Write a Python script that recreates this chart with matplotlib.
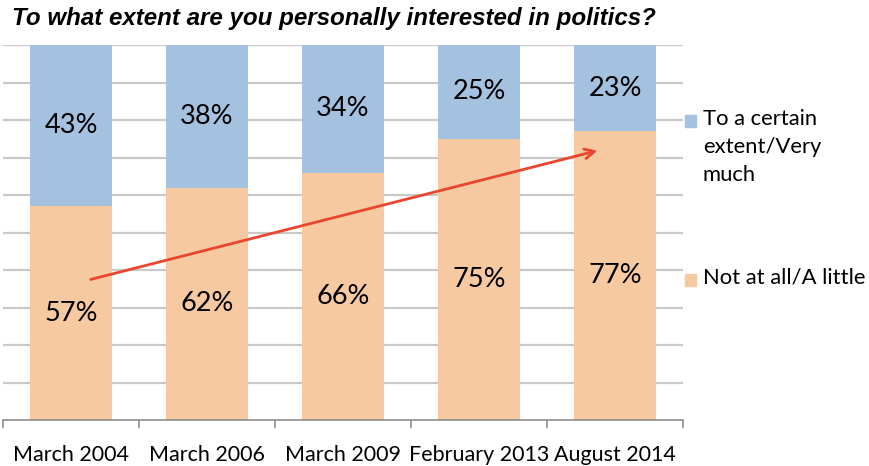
import matplotlib
matplotlib.use("Agg")
import matplotlib.pyplot as plt
from matplotlib.patches import Rectangle
import numpy as np

categories = ["March 2004", "March 2006", "March 2009", "February 2013", "August 2014"]
not_at_all = [57, 62, 66, 75, 77]
certain_extent = [43, 38, 34, 25, 23]
series_names = ["To a certain\nextent/Very\nmuch", "Not at all/A little"]
title = "To what extent are you personally interested in politics?"

BLUE = "#a5c1e0"
ORANGE = "#f7c9a0"
GRID = "#c9c9c9"
RED = "#e8462f"
LABEL_FONT = ["Lato", "DejaVu Sans"]

W, H = 870, 466
fig = plt.figure(figsize=(W / 100, H / 100), dpi=100)
ax = fig.add_axes([3 / W, (H - 420) / H, (683 - 3) / W, (420 - 45) / H])

x = np.arange(len(categories))
bw = 0.61
ax.bar(x, not_at_all, bw, color=ORANGE, zorder=2)
ax.bar(x, certain_extent, bw, bottom=not_at_all, color=BLUE, zorder=2)

for xi, lo, hi in zip(x, not_at_all, certain_extent):
    ax.text(xi, lo / 2, f"{lo}%", ha="center", va="center", fontsize=19.5,
            family=LABEL_FONT, color="black", zorder=3)
    ax.text(xi, lo + hi / 2, f"{hi}%", ha="center", va="center", fontsize=19.5,
            family=LABEL_FONT, color="black", zorder=3)

ax.set_xlim(-0.5, len(categories) - 0.5)
ax.set_ylim(0, 100)
ax.set_yticks(np.arange(10, 101, 10))
ax.yaxis.grid(True, color=GRID, lw=1.6, zorder=0)
ax.tick_params(axis="y", left=False, labelleft=False)
ax.set_xticks(x)
ax.set_xticklabels(categories, fontsize=15.5, family=LABEL_FONT)
ax.set_xticks(np.arange(-0.5, len(categories), 1), minor=True)
ax.tick_params(axis="x", which="major", length=0, pad=18)
ax.tick_params(axis="x", which="minor", length=6, width=1.2, color="#8c8c8c", direction="out")
for s in ["top", "right", "left"]:
    ax.spines[s].set_visible(False)
ax.spines["bottom"].set_color("#8c8c8c")
ax.spines["bottom"].set_linewidth(1.2)
ax.set_axisbelow(True)

# trend arrow
arrow_start = (0.125, 37.3)
arrow_end = (3.89, 72.0)
ax.annotate("", xy=arrow_end, xytext=arrow_start,
            arrowprops=dict(arrowstyle="->,head_length=0.7,head_width=0.35", color=RED, lw=2),
            zorder=4)

# title
fig.text(12 / W, 1 - 18 / H, title, fontsize=17.4, fontweight="bold", fontstyle="italic",
         family=["Liberation Sans", "DejaVu Sans"], ha="left", va="center")

# legend (manual, handle aligned to first line)
leg_items = [(series_names[0], BLUE, 121), (series_names[1], ORANGE, 280)]
for name, col, yc in leg_items:
    fig.patches.append(Rectangle((685 / W, 1 - (yc + 6) / H), 11 / W, 12 / H,
                                 transform=fig.transFigure, color=col))
    fig.text(703 / W, 1 - (yc - 12) / H, name, fontsize=15.8, family=LABEL_FONT,
             ha="left", va="top", linespacing=1.5)

fig.savefig("out.png", dpi=100)
